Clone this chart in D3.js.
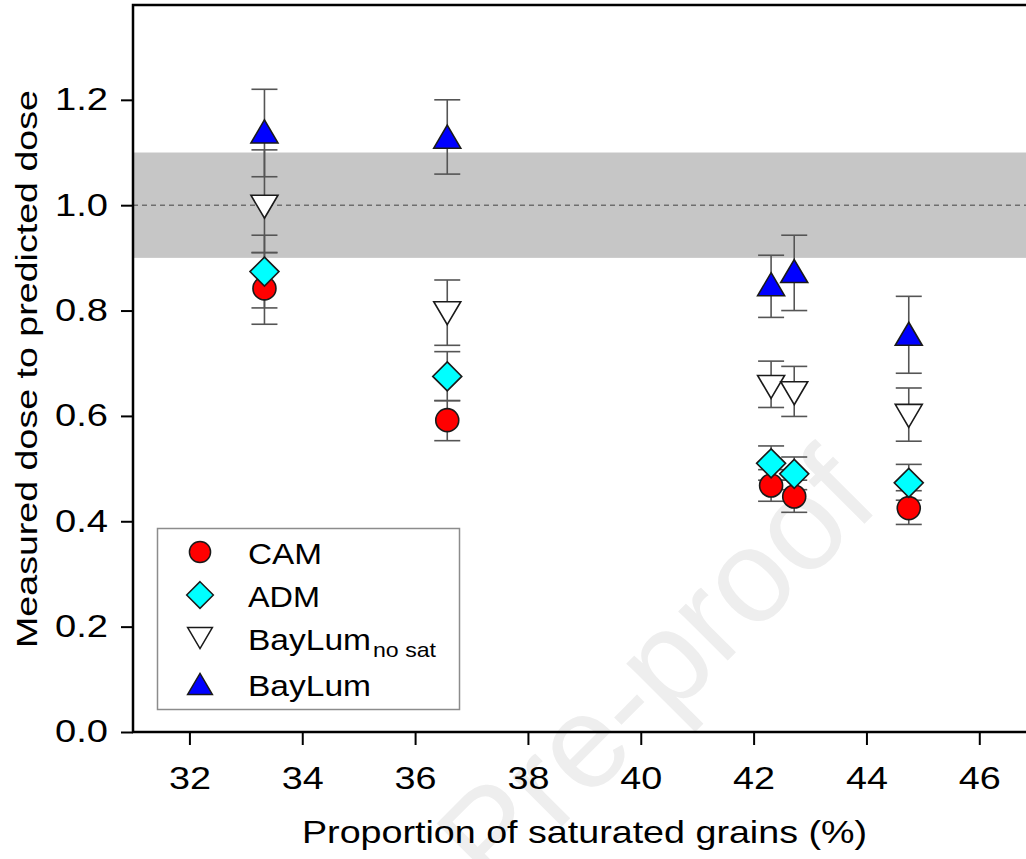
<!DOCTYPE html>
<html>
<head>
<meta charset="utf-8">
<script src="https://d3js.org/d3.v7.min.js"></script>
<style>
  body { margin: 0; background: #fff; }
  svg { display: block; overflow: hidden; }
  svg text { font-family: "Liberation Sans", Arial, sans-serif; fill: #000; }
  .axis path { display: none; }
  .axis line { stroke: #000; stroke-width: 2; }
</style>
</head>
<body>
<script>
// values
var xVals    = [33.33, 36.57, 42.31, 42.72, 44.75];
var camVal   = [0.842, 0.592, 0.468, 0.447, 0.425];
var camLo    = [0.774, 0.553, 0.438, 0.417, 0.394];
var camHi    = [0.910, 0.629, 0.498, 0.478, 0.458];
var admVal   = [0.874, 0.675, 0.510, 0.490, 0.473];
var admLo    = [0.805, 0.629, 0.478, 0.460, 0.440];
var admHi    = [0.943, 0.722, 0.543, 0.522, 0.508];
var noSatVal = [0.997, 0.795, 0.655, 0.643, 0.600];
var noSatLo  = [0.910, 0.734, 0.616, 0.599, 0.552];
var noSatHi  = [1.105, 0.858, 0.704, 0.694, 0.653];
var bayVal   = [1.140, 1.130, 0.850, 0.875, 0.756];
var bayLo    = [1.054, 1.059, 0.787, 0.800, 0.681];
var bayHi    = [1.220, 1.200, 0.905, 0.943, 0.827];
var xTicks = [32, 34, 36, 38, 40, 42, 44, 46];
var yTicks = [0, 0.2, 0.4, 0.6, 0.8, 1.0, 1.2];
var band = [0.9, 1.1];
var refLine = 1.0;

var width = 1026, height = 859;
var plotL = 133, plotT = 5, plotB = 732, plotR = 1035.7;

var svg = d3.select("body").append("svg")
  .attr("width", width)
  .attr("height", height);

var x = d3.scaleLinear().domain([31, 47]).range([plotL, plotR]);
var y = d3.scaleLinear().domain([0, 1.38]).range([plotB, plotT]);

// marker shapes (custom symbol types)
var circleSym = { draw: function(c) { c.moveTo(11.5, 0); c.arc(0, 0, 11.5, 0, 2 * Math.PI); } };
var diamondSym = { draw: function(c) { var h = 14.5; c.moveTo(0, -h); c.lineTo(h, 0); c.lineTo(0, h); c.lineTo(-h, 0); c.closePath(); } };
var triUpSym = { draw: function(c) { var w = 13.5, h = 11.5; c.moveTo(0, -h); c.lineTo(w, h); c.lineTo(-w, h); c.closePath(); } };
var triDownSym = { draw: function(c) { var w = 13.5, h = 11.5; c.moveTo(0, h); c.lineTo(w, -h); c.lineTo(-w, -h); c.closePath(); } };

var series = [
  { name: "CAM", val: camVal, lo: camLo, hi: camHi, sym: circleSym, fill: "#ff0000" },
  { name: "ADM", val: admVal, lo: admLo, hi: admHi, sym: diamondSym, fill: "#00ffff" },
  { name: "BayLum", sub: "no sat", val: noSatVal, lo: noSatLo, hi: noSatHi, sym: triDownSym, fill: "#ffffff" },
  { name: "BayLum", val: bayVal, lo: bayLo, hi: bayHi, sym: triUpSym, fill: "#0000ff" }
];

// watermark
svg.append("text")
  .attr("transform", "translate(655,668) rotate(-45)")
  .attr("text-anchor", "middle")
  .attr("dy", "0.35em")
  .attr("font-size", 132)
  .style("fill", "#eeeeee")
  .text("Pre-proof");

// grey band and dashed reference
svg.append("rect")
  .attr("x", plotL)
  .attr("y", y(band[1]))
  .attr("width", plotR - plotL)
  .attr("height", y(band[0]) - y(band[1]))
  .attr("fill", "#c6c6c6");

svg.append("line")
  .attr("x1", plotL).attr("x2", plotR)
  .attr("y1", y(refLine)).attr("y2", y(refLine))
  .attr("stroke", "#6e6e6e")
  .attr("stroke-width", 1.5)
  .attr("stroke-dasharray", "5,4");

// axes
var yAxis = svg.append("g")
  .attr("class", "axis")
  .attr("transform", "translate(" + plotL + ",0)")
  .call(d3.axisLeft(y).tickValues(yTicks).tickSize(12).tickPadding(13).tickFormat(d3.format(".1f")));
yAxis.selectAll("text")
  .attr("font-size", 31)
  .attr("textLength", 53)
  .attr("lengthAdjust", "spacingAndGlyphs");

var xAxis = svg.append("g")
  .attr("class", "axis")
  .attr("transform", "translate(0," + plotB + ")")
  .call(d3.axisBottom(x).tickValues(xTicks).tickSize(13).tickPadding(22).tickFormat(d3.format("d")));
xAxis.selectAll("text")
  .attr("font-size", 31)
  .attr("textLength", 42)
  .attr("lengthAdjust", "spacingAndGlyphs");

// frame
svg.append("rect")
  .attr("x", plotL).attr("y", plotT)
  .attr("width", plotR - plotL).attr("height", plotB - plotT)
  .attr("fill", "none")
  .attr("stroke", "#000")
  .attr("stroke-width", 2.5);

// axis titles
svg.append("text")
  .attr("x", 584.5).attr("y", 843)
  .attr("text-anchor", "middle")
  .attr("font-size", 32)
  .attr("textLength", 565)
  .attr("lengthAdjust", "spacingAndGlyphs")
  .text("Proportion of saturated grains (%)");

svg.append("text")
  .attr("transform", "translate(37,369) rotate(-90)")
  .attr("text-anchor", "middle")
  .attr("font-size", 30)
  .attr("textLength", 558)
  .attr("lengthAdjust", "spacingAndGlyphs")
  .text("Measured dose to predicted dose");

// error bars
var capW = 13;
var errG = svg.append("g")
  .attr("stroke", "#555")
  .attr("stroke-width", 1.6);
series.forEach(function(s) {
  var g = errG.selectAll(null).data(xVals).enter().append("g");
  g.append("line")
    .attr("x1", function(d) { return x(d); }).attr("x2", function(d) { return x(d); })
    .attr("y1", function(d, i) { return y(s.lo[i]); })
    .attr("y2", function(d, i) { return y(s.hi[i]); });
  g.append("line")
    .attr("x1", function(d) { return x(d) - capW; }).attr("x2", function(d) { return x(d) + capW; })
    .attr("y1", function(d, i) { return y(s.lo[i]); })
    .attr("y2", function(d, i) { return y(s.lo[i]); });
  g.append("line")
    .attr("x1", function(d) { return x(d) - capW; }).attr("x2", function(d) { return x(d) + capW; })
    .attr("y1", function(d, i) { return y(s.hi[i]); })
    .attr("y2", function(d, i) { return y(s.hi[i]); });
});

// markers
series.forEach(function(s) {
  svg.append("g").selectAll("path")
    .data(xVals)
    .enter().append("path")
    .attr("d", d3.symbol().type(s.sym))
    .attr("transform", function(d, i) { return "translate(" + x(d) + "," + y(s.val[i]) + ")"; })
    .attr("fill", s.fill)
    .attr("stroke", "#1a1a1a")
    .attr("stroke-width", 1.6);
});

// legend
var legend = svg.append("g").attr("class", "legend");
legend.append("rect")
  .attr("x", 157.5).attr("y", 528.5)
  .attr("width", 302).attr("height", 181)
  .attr("fill", "#fff")
  .attr("stroke", "#8c8c8c")
  .attr("stroke-width", 1.5);

var rowY = [552, 595, 638, 684];
var nameLen = { "CAM": 74, "ADM": 72, "BayLum": 123 };
var rows = legend.selectAll("g.row")
  .data(series)
  .enter().append("g")
  .attr("class", "row")
  .attr("transform", function(d, i) { return "translate(0," + rowY[i] + ")"; });
rows.append("path")
  .attr("transform", "translate(200,0) scale(0.92)")
  .attr("d", function(d) { return d3.symbol().type(d.sym)(); })
  .attr("fill", function(d) { return d.fill; })
  .attr("stroke", "#1a1a1a")
  .attr("stroke-width", 1.6);
rows.append("text")
  .attr("x", 248).attr("y", 11.5)
  .attr("font-size", 30)
  .attr("textLength", function(d) { return nameLen[d.name]; })
  .attr("lengthAdjust", "spacingAndGlyphs")
  .text(function(d) { return d.name; });
rows.filter(function(d) { return d.sub; })
  .append("text")
  .attr("x", 373).attr("y", 18.5)
  .attr("font-size", 21)
  .attr("textLength", 63)
  .attr("lengthAdjust", "spacingAndGlyphs")
  .text(function(d) { return d.sub; });
</script>
</body>
</html>
